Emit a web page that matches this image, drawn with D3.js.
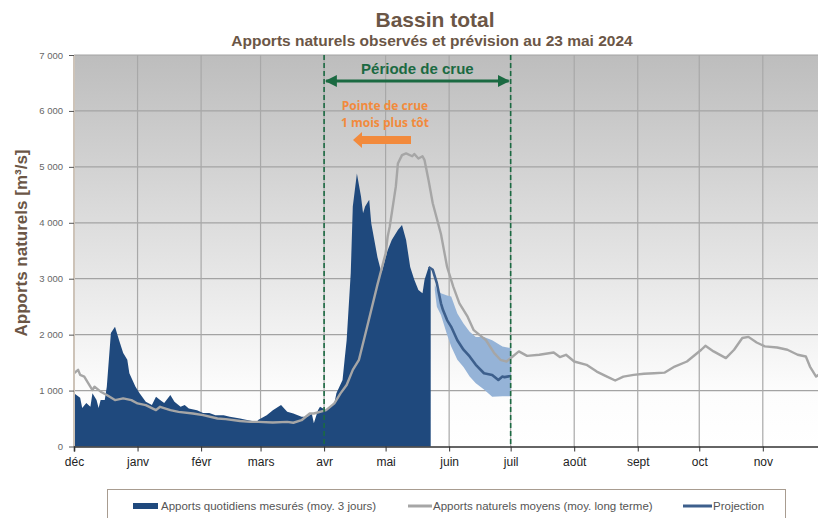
<!DOCTYPE html>
<html>
<head>
<meta charset="utf-8">
<script src="https://cdn.jsdelivr.net/npm/d3@7"></script>
<style>
  body { margin: 0; background: #fff; }
  svg { display: block; font-family: "Liberation Sans", Arial, sans-serif; }
</style>
</head>
<body>
<svg id="chart" width="818" height="518"></svg>
<script>
// month labels, Dec 2023 -> Nov 2024
const monthLabels = ["déc", "janv", "févr", "mars", "avr", "mai", "juin", "juil", "août", "sept", "oct", "nov"];
const yTicks = [0, 1000, 2000, 3000, 4000, 5000, 6000, 7000];

// observed daily inflows (3-day avg), day = days since 1 Dec 2023
const observedDays = [0, 3, 4, 6, 8, 9, 11, 12, 13, 15, 16, 18, 20, 22, 24, 26, 27, 30, 32, 35, 38, 40, 42, 44, 47, 49, 52, 54, 56, 60, 63, 66, 69, 73, 76, 81, 85, 89, 90, 94, 97, 101, 104, 107, 111, 114, 116, 117, 119, 120, 123, 127, 128, 131, 132, 133, 135, 136, 138, 140, 141, 142, 144, 145, 148, 150, 153, 155, 158, 160, 162, 164, 166, 168, 170, 171, 173, 174];
const observedFlow = [950, 870, 690, 780, 710, 950, 830, 690, 830, 830, 1070, 2030, 2140, 1900, 1670, 1550, 1310, 1070, 950, 800, 740, 890, 830, 780, 920, 800, 710, 740, 680, 650, 600, 600, 560, 560, 530, 500, 470, 440, 480, 560, 650, 740, 620, 590, 530, 530, 590, 415, 650, 710, 650, 770, 950, 1190, 1550, 1900, 3100, 4290, 4880, 4470, 4170, 4290, 4410, 3990, 3390, 3100, 3510, 3690, 3870, 3960, 3690, 3210, 2980, 2800, 2740, 2980, 3210, 3150];

// long-term mean inflows
const meanDays = [0, 2, 3, 5, 7, 9, 10, 13, 16, 20, 24, 28, 31, 35, 40, 42, 47, 51, 58, 63, 70, 74, 81, 86, 90, 97, 104, 107, 111, 115, 117, 123, 127, 130, 133, 136, 139, 143, 148, 152, 153, 154, 156, 157, 158, 160, 162, 165, 166, 168, 170, 171, 173, 175, 179, 182, 185, 188, 192, 195, 199, 201, 205, 208, 211, 214, 217, 221, 227, 234, 237, 240, 244, 250, 255, 260, 264, 268, 273, 278, 283, 288, 293, 299, 306, 308, 312, 318, 322, 326, 329, 333, 337, 343, 348, 353, 357, 359, 362, 364];
const meanFlow = [1310, 1370, 1280, 1250, 1130, 1010, 1070, 980, 920, 830, 860, 830, 770, 740, 650, 710, 650, 620, 590, 560, 500, 490, 455, 440, 440, 430, 440, 425, 470, 590, 590, 650, 770, 950, 1100, 1370, 1550, 2140, 2890, 3450, 3750, 3930, 4410, 4650, 5060, 5210, 5240, 5190, 5230, 5150, 5190, 5120, 4750, 4350, 3800, 3210, 2860, 2560, 2320, 2080, 1960, 1900, 1670, 1550, 1520, 1610, 1700, 1620, 1640, 1680, 1600, 1640, 1520, 1460, 1340, 1250, 1180, 1250, 1280, 1300, 1310, 1320, 1430, 1520, 1730, 1800, 1700, 1580, 1730, 1940, 1960, 1860, 1790, 1770, 1730, 1640, 1610, 1430, 1250, 1300];

// projection and its uncertainty band
const projDays = [173, 175, 177, 179, 180, 182, 184, 187, 190, 193, 196, 200, 204, 207, 209, 210, 213];
const projFlow = [3210, 3160, 2920, 2560, 2440, 2260, 2140, 1900, 1730, 1610, 1460, 1310, 1280, 1190, 1250, 1240, 1260];
const bandDays = [176, 177, 179, 182, 184, 187, 190, 193, 196, 200, 204, 209, 213];
const bandLow = [2800, 2500, 2350, 2000, 1790, 1550, 1420, 1250, 1130, 1020, 890, 900, 900];
const bandHigh = [2900, 2800, 2740, 2700, 2680, 2380, 2200, 2050, 1960, 1960, 1900, 1790, 1760];

const floodPeriod = [new Date(2024, 3, 1), new Date(2024, 6, 1)];
const legendLabels = ["Apports quotidiens mesurés (moy. 3 jours)", "Apports naturels moyens (moy. long terme)", "Projection"];

const start = new Date(2023, 11, 1);
const toDate = d => d3.timeDay.offset(start, d);

const svg = d3.select("#chart");
const x = d3.scaleTime().domain([start, new Date(2024, 11, 1)]).range([74, 824.3]);
const y = d3.scaleLinear().domain([0, 7000]).range([446.5, 55]);

// background gradient
const defs = svg.append("defs");
const grad = defs.append("linearGradient").attr("id", "bg").attr("x1", 0).attr("y1", 0).attr("x2", 0).attr("y2", 1);
grad.append("stop").attr("offset", "0%").attr("stop-color", "#bdbdbd");
grad.append("stop").attr("offset", "85%").attr("stop-color", "#fcfcfc");
grad.append("stop").attr("offset", "100%").attr("stop-color", "#ffffff");

svg.append("rect")
  .attr("x", 74).attr("y", 55)
  .attr("width", 818 - 74).attr("height", 446.5 - 55)
  .attr("fill", "url(#bg)");

// grid
const months = d3.timeMonth.range(start, new Date(2024, 11, 1));
svg.append("g").selectAll("line").data(yTicks.slice(1))
  .join("line")
  .attr("x1", 74).attr("x2", 818)
  .attr("y1", d => y(d)).attr("y2", d => y(d))
  .attr("stroke", "#a3a3a3").attr("stroke-width", 1.2);
svg.append("g").selectAll("line").data(months.slice(1))
  .join("line")
  .attr("x1", d => x(d)).attr("x2", d => x(d))
  .attr("y1", 55).attr("y2", 446.5)
  .attr("stroke", "#a8a8a8").attr("stroke-width", 1.2);

// observed area
const obs = observedDays.map((d, i) => [toDate(d), observedFlow[i]]);
svg.append("path")
  .datum(obs)
  .attr("fill", "#1f497d")
  .attr("d", d3.area().x(d => x(d[0])).y0(y(0)).y1(d => y(d[1])));

// projection band
const band = bandDays.map((d, i) => [toDate(d), bandLow[i], bandHigh[i]]);
svg.append("path")
  .datum(band)
  .attr("fill", "#95b3d7")
  .attr("d", d3.area().x(d => x(d[0])).y0(d => y(d[1])).y1(d => y(d[2])));

// long-term mean
const mean = meanDays.map((d, i) => [toDate(d), meanFlow[i]]);
svg.append("path")
  .datum(mean)
  .attr("fill", "none")
  .attr("stroke", "#a6a6a6")
  .attr("stroke-width", 2.4)
  .attr("stroke-linejoin", "round")
  .attr("d", d3.line().x(d => x(d[0])).y(d => y(d[1])));

// projection line
const proj = projDays.map((d, i) => [toDate(d), projFlow[i]]);
svg.append("path")
  .datum(proj)
  .attr("fill", "none")
  .attr("stroke", "#3d5f8c")
  .attr("stroke-width", 2.6)
  .attr("stroke-linejoin", "round")
  .attr("d", d3.line().x(d => x(d[0])).y(d => y(d[1])));

// axes
svg.append("line")
  .attr("x1", 74).attr("x2", 74).attr("y1", 55).attr("y2", 446.5)
  .attr("stroke", "#cdc3b8").attr("stroke-width", 2);

const yAxis = svg.append("g")
  .attr("transform", "translate(74,0)")
  .call(d3.axisLeft(y).tickValues(yTicks).tickSize(5).tickPadding(6)
    .tickFormat(d => d3.format(",")(d).replace(",", " ")));
yAxis.select(".domain").remove();
yAxis.selectAll(".tick line").attr("stroke", "#555");
yAxis.selectAll(".tick text").attr("fill", "#666").style("font-size", "9.5px").style("font-family", "Liberation Sans, Arial");

const xAxis = svg.append("g")
  .attr("transform", `translate(0,${y(0)})`)
  .call(d3.axisBottom(x).tickValues(months).tickSize(5).tickPadding(6)
    .tickFormat(d => monthLabels[(d.getMonth() + 1) % 12]));
xAxis.select(".domain").attr("stroke", "#333").attr("stroke-width", 1.6);
xAxis.selectAll(".tick line").attr("stroke", "#333");
xAxis.selectAll(".tick text").attr("fill", "#222").style("font-size", "12px").style("font-family", "Liberation Sans, Arial");

// flood period
svg.append("g").selectAll("line").data(floodPeriod)
  .join("line")
  .attr("x1", d => x(d)).attr("x2", d => x(d))
  .attr("y1", 55).attr("y2", 446.5)
  .attr("stroke", "#1b6a42").attr("stroke-width", 1.6)
  .attr("stroke-dasharray", "5,3");

defs.append("marker")
  .attr("id", "gh").attr("viewBox", "0 0 10 10")
  .attr("refX", 9).attr("refY", 5)
  .attr("markerWidth", 4).attr("markerHeight", 4)
  .attr("orient", "auto-start-reverse")
  .append("path").attr("d", "M0,0L10,5L0,10Z").attr("fill", "#1b6a42");

svg.append("line")
  .attr("x1", x(floodPeriod[0]) + 2).attr("x2", x(floodPeriod[1]) - 2)
  .attr("y1", 81).attr("y2", 81)
  .attr("stroke", "#1b6a42").attr("stroke-width", 3)
  .attr("marker-start", "url(#gh)").attr("marker-end", "url(#gh)");

svg.append("text")
  .attr("x", (x(floodPeriod[0]) + x(floodPeriod[1])) / 2).attr("y", 74)
  .attr("text-anchor", "middle")
  .attr("fill", "#1b6a42")
  .style("font-size", "15px").style("font-weight", "bold")
  .text("Période de crue");

// early peak note
const note = svg.append("g").attr("fill", "#f28a3c")
  .style("font-family", "Open Sans, sans-serif").style("font-weight", "bold").style("font-size", "12px")
  .attr("text-anchor", "middle");
note.append("text").attr("x", 385).attr("y", 110).text("Pointe de crue");
note.append("text").attr("x", 385).attr("y", 127).text("1 mois plus tôt");
svg.append("path")
  .attr("d", "M411,136L362,136L362,132L353,140L362,148L362,144L411,144Z")
  .attr("fill", "#f28a3c");

// titles
svg.append("text")
  .attr("x", 435).attr("y", 27)
  .attr("text-anchor", "middle")
  .attr("fill", "#6b5646")
  .style("font-size", "21px").style("font-weight", "bold")
  .text("Bassin total");
svg.append("text")
  .attr("x", 432).attr("y", 46)
  .attr("text-anchor", "middle")
  .attr("fill", "#6b5646")
  .style("font-size", "15.5px").style("font-weight", "bold")
  .text("Apports naturels observés et prévision au 23 mai 2024");

svg.append("text")
  .attr("transform", "translate(27,243) rotate(-90)")
  .attr("text-anchor", "middle")
  .attr("fill", "#6b5646")
  .style("font-size", "17px").style("font-weight", "bold")
  .text("Apports naturels [m³/s]");

// legend
svg.append("rect")
  .attr("x", 107.5).attr("y", 489.5).attr("width", 678).attr("height", 40)
  .attr("fill", "#fff").attr("stroke", "#a89c90");

const legend = svg.append("g").style("font-size", "11.5px").attr("fill", "#555");
legend.append("rect").attr("x", 133).attr("y", 503).attr("width", 25).attr("height", 6).attr("fill", "#1f497d");
legend.append("text").attr("x", 161).attr("y", 510).text(legendLabels[0]);
legend.append("line").attr("x1", 408).attr("x2", 432).attr("y1", 506).attr("y2", 506)
  .attr("stroke", "#a6a6a6").attr("stroke-width", 3);
legend.append("text").attr("x", 433).attr("y", 510).text(legendLabels[1]);
legend.append("line").attr("x1", 683).attr("x2", 712).attr("y1", 506).attr("y2", 506)
  .attr("stroke", "#3d5f8c").attr("stroke-width", 3);
legend.append("text").attr("x", 713).attr("y", 510).text(legendLabels[2]);
</script>
</body>
</html>
